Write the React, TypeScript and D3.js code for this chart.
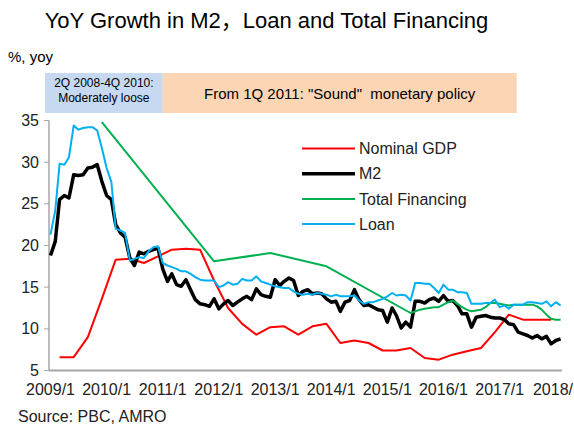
import React, { useEffect, useRef } from 'react';
import * as d3 from 'd3';

// monthly series, Jan 2009 .. Feb 2018
const m2 = [
  18.8, 20.5, 25.5, 26.0, 25.7, 28.5, 28.4, 28.5, 29.3, 29.4, 29.7, 27.7,
  26.0, 25.5, 22.5, 21.5, 21.0, 18.5, 17.6, 19.2, 19.0, 19.3, 19.5, 19.7,
  17.2, 15.7, 16.6, 15.3, 15.1, 15.9, 14.7, 13.5, 13.0, 12.9, 12.7, 13.6,
  12.4, 13.0, 13.4, 12.8, 13.2, 13.6, 13.9, 13.5, 14.8, 14.1, 13.9, 13.8,
  15.9, 15.2, 15.7, 16.1, 15.8, 14.0, 14.5, 14.7, 14.2, 14.3, 14.2, 13.6,
  13.2, 13.3, 12.1, 13.2, 13.4, 14.7, 13.5, 12.8, 12.9, 12.6, 12.3, 12.2,
  10.8, 12.5, 11.6, 10.1, 10.8, 10.2, 13.3, 13.3, 13.1, 13.5, 13.7, 13.3,
  14.0, 13.3, 13.4, 12.8, 11.8, 11.8, 10.2, 11.4, 11.5, 11.6, 11.4, 11.3,
  11.3, 11.1, 10.6, 10.5, 9.6, 9.4, 9.2, 8.9, 9.2, 8.8, 9.1, 8.2,
  8.6, 8.8,
];

const loan = [
  21.3, 24.2, 29.8, 29.7, 30.6, 34.4, 33.9, 34.1, 34.2, 34.2, 33.8, 31.7,
  29.3, 27.6, 22.0, 21.8, 21.5, 18.2, 18.4, 18.6, 18.5, 19.3, 19.8, 19.9,
  17.9, 17.6, 17.4, 17.2, 16.9, 16.9, 16.6, 16.2, 15.9, 15.8, 15.8, 15.8,
  15.0, 15.2, 15.6, 15.3, 15.4, 16.0, 15.8, 15.8, 16.3, 15.7, 15.5, 15.3,
  15.1, 15.0, 14.9, 14.9, 14.5, 14.2, 14.1, 14.2, 14.1, 14.3, 14.2, 14.1,
  13.9, 14.1, 13.9, 13.9, 13.9, 14.0, 13.4, 13.0, 13.2, 13.2, 13.4, 13.6,
  13.9, 14.3, 14.0, 14.1, 14.0, 13.4, 15.5, 15.5, 15.4, 15.4, 14.9, 14.3,
  15.3, 14.7, 14.7, 14.4, 14.4, 14.3, 13.0, 13.0, 13.0, 13.1, 13.1, 13.5,
  12.6, 12.8, 12.4, 12.9, 12.9, 12.9, 13.2, 13.2, 13.1, 13.0, 13.3, 12.7,
  13.2, 12.8,
];

// quarterly, 2009Q1 .. 2017Q4 (plotted at quarter end)
const gdp = [
  6.6, 6.6, 9.0, 13.6,
  18.3, 18.4, 17.9, 18.7,
  19.5, 19.6, 19.5, 15.8,
  12.5, 10.6, 9.3, 10.2,
  10.3, 9.3, 10.3, 10.6,
  8.3, 8.6, 8.3, 7.4,
  7.4, 7.7, 6.5, 6.3,
  6.9, 7.3, 7.7, 9.6,
  11.7, 11.1, 11.1, 11.1,
];

const tfDates = [
  '2009-12', '2011-12', '2012-12', '2013-12',
  '2015-06', '2015-07', '2015-08', '2015-09', '2015-10', '2015-11', '2015-12',
  '2016-01', '2016-02', '2016-03', '2016-04', '2016-05', '2016-06',
  '2016-07', '2016-08', '2016-09', '2016-10', '2016-11', '2016-12',
  '2017-01', '2017-02', '2017-03', '2017-04', '2017-05', '2017-06',
  '2017-07', '2017-08', '2017-09', '2017-10', '2017-11', '2017-12',
  '2018-01', '2018-02',
];
const tfValues = [
  34.8, 18.1, 19.1, 17.5,
  11.9, 12.1, 12.3, 12.4, 12.5, 12.6, 12.6,
  12.9, 13.2, 13.4, 13.0, 12.6, 12.3,
  12.1, 12.2, 12.3, 12.6, 13.1, 13.1,
  13.0, 12.9, 12.8, 12.9, 12.9, 12.9,
  12.9, 12.9, 12.7, 12.3, 11.7, 11.2,
  11.1, 11.1,
];

const yearTicks = d3.range(2009, 2019);
const yearLabels = ['2009/1', '2010/1', '2011/1', '2012/1', '2013/1', '2014/1', '2015/1', '2016/1', '2017/1', '2018/'];
const yTicks = [5, 10, 15, 20, 25, 30, 35];

const FONT = '"Liberation Sans", Arial, "Noto Sans CJK SC", sans-serif';

export default function App() {
  const ref = useRef(null);

  useEffect(() => {
    document.body.style.margin = '0';
    const svg = d3.select(ref.current);
    svg.selectAll('*').remove();

    const start = new Date(2009, 0, 1);
    const parse = d3.timeParse('%Y-%m');

    const x = d3.scaleTime()
      .domain([start, new Date(2018, 1, 1)])
      .range([50.5, 560.6]);
    const y = d3.scaleLinear()
      .domain([5, 35])
      .range([370.5, 120.5]);

    const monthly = vals => vals.map((v, i) => ({ date: d3.timeMonth.offset(start, i), value: v }));
    const series = [
      { name: 'Nominal GDP', color: '#ff0000', width: 2, data: gdp.map((v, i) => ({ date: d3.timeMonth.offset(start, 2 + 3 * i), value: v })) },
      { name: 'M2', color: '#000000', width: 3.5, data: monthly(m2) },
      { name: 'Total Financing', color: '#00b050', width: 2, data: tfDates.map((d, i) => ({ date: parse(d), value: tfValues[i] })) },
      { name: 'Loan', color: '#00b0f0', width: 2, data: monthly(loan) },
    ];

    // title
    svg.append('text')
      .attr('x', 266.5).attr('y', 28)
      .attr('text-anchor', 'middle')
      .style('font-size', '22px')
      .text('YoY Growth in M2，Loan and Total Financing');

    svg.append('text')
      .attr('x', 8).attr('y', 62)
      .style('font-size', '15px')
      .text('%, yoy');

    // policy banners
    const split = x(new Date(2011, 0, 1));
    svg.append('rect')
      .attr('x', 45).attr('y', 73).attr('width', split - 45).attr('height', 40)
      .attr('fill', '#c6d9f1');
    svg.append('rect')
      .attr('x', split).attr('y', 73).attr('width', 516.7 - split).attr('height', 40)
      .attr('fill', '#fcd5b5');

    const loose = svg.append('text')
      .attr('text-anchor', 'middle')
      .style('font-size', '12px');
    loose.append('tspan').attr('x', (45 + split) / 2).attr('y', 87).text('2Q 2008-4Q 2010:');
    loose.append('tspan').attr('x', (45 + split) / 2).attr('y', 102).text('Moderately loose');

    svg.append('text')
      .attr('x', (split + 516.7) / 2).attr('y', 99)
      .attr('text-anchor', 'middle')
      .attr('xml:space', 'preserve')
      .style('font-size', '15px')
      .style('white-space', 'pre')
      .text('From 1Q 2011: "Sound"  monetary policy');

    // axes
    svg.append('line')
      .attr('x1', 49).attr('x2', 49)
      .attr('y1', y(35)).attr('y2', y(5))
      .attr('stroke', '#a6a6a6').attr('stroke-width', 1.5);
    svg.append('g').selectAll('line')
      .data(yTicks).enter().append('line')
      .attr('x1', 44).attr('x2', 49)
      .attr('y1', d => y(d)).attr('y2', d => y(d))
      .attr('stroke', '#a6a6a6').attr('stroke-width', 1);
    svg.append('g').selectAll('text')
      .data(yTicks).enter().append('text')
      .attr('x', 39).attr('y', d => y(d))
      .attr('dy', '0.35em')
      .attr('text-anchor', 'end')
      .style('font-size', '16px')
      .attr('fill', '#222')
      .text(d => d);

    svg.append('line')
      .attr('x1', 49).attr('x2', 562)
      .attr('y1', y(5)).attr('y2', y(5))
      .attr('stroke', '#a6a6a6').attr('stroke-width', 2);
    // the last label is clipped at the frame in the original, only "2018/" shows
    svg.append('g').selectAll('text')
      .data(yearTicks).enter().append('text')
      .attr('x', (d, i) => i === yearTicks.length - 1 ? 573 : x(new Date(d, 0, 1)))
      .attr('y', 395)
      .attr('text-anchor', (d, i) => i === yearTicks.length - 1 ? 'end' : 'middle')
      .style('font-size', '16px')
      .attr('fill', '#222')
      .text((d, i) => yearLabels[i]);

    // lines
    const line = d3.line()
      .x(d => x(d.date))
      .y(d => y(d.value));

    series.forEach(s => {
      svg.append('path')
        .datum(s.data)
        .attr('fill', 'none')
        .attr('stroke', s.color)
        .attr('stroke-width', s.width)
        .attr('stroke-linejoin', 'round')
        .attr('d', line);
    });

    // legend
    const legend = svg.append('g').selectAll('g')
      .data(series).enter().append('g')
      .attr('transform', (d, i) => `translate(302, ${148.5 + i * 25.2})`);
    legend.append('line')
      .attr('x1', 0).attr('x2', 53)
      .attr('stroke', d => d.color)
      .attr('stroke-width', d => d.width);
    legend.append('text')
      .attr('x', 57).attr('dy', '0.35em')
      .style('font-size', '16px')
      .attr('fill', '#222')
      .text(d => d.name);

    svg.append('text')
      .attr('x', 18).attr('y', 422)
      .style('font-size', '16px')
      .attr('fill', '#222')
      .text('Source: PBC, AMRO');
  }, []);

  return (
    <svg ref={ref} width={574} height={427}
      style={{ display: 'block', position: 'absolute', left: 0, top: 0, fontFamily: FONT, background: '#fff' }} />
  );
}
